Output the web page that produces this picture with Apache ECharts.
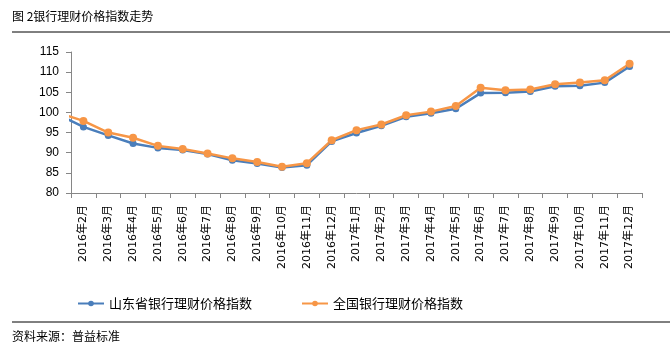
<!DOCTYPE html>
<html>
<head>
<meta charset="utf-8">
<script src="https://cdn.jsdelivr.net/npm/echarts@6/dist/echarts.min.js"></script>
<style>
  html, body { margin: 0; padding: 0; background: #fff; }
  #chart { width: 670px; height: 353px; }
</style>
</head>
<body>
<div id="chart"></div>
<script>
// 月份（第一项只用来画出坐标轴左侧被裁掉的那一段线）
var months = ['2016年1月', '2016年2月', '2016年3月', '2016年4月', '2016年5月', '2016年6月', '2016年7月',
  '2016年8月', '2016年9月', '2016年10月', '2016年11月', '2016年12月', '2017年1月', '2017年2月',
  '2017年3月', '2017年4月', '2017年5月', '2017年6月', '2017年7月', '2017年8月', '2017年9月',
  '2017年10月', '2017年11月', '2017年12月'];
var shandong = [99.4, 96.4, 94.3, 92.3, 91.2, 90.7, 89.7, 88.1, 87.3, 86.3, 86.9, 92.8, 94.9, 96.7,
  98.9, 99.8, 100.9, 104.8, 104.9, 105.2, 106.5, 106.6, 107.4, 111.4];
var national = [99.9, 97.9, 95.0, 93.7, 91.7, 90.9, 89.8, 88.6, 87.7, 86.5, 87.4, 93.1, 95.6, 97.0,
  99.3, 100.2, 101.6, 106.1, 105.5, 105.7, 107.0, 107.4, 108.0, 112.1];
var yTicks = { min: 80, max: 115, interval: 5 };

var blueColor = '#4a7ebb';
var orangeColor = '#f79646';
var axisColor = '#868686';
var cjk = '"Noto Sans CJK SC", "Noto Sans", sans-serif';

var myChart = echarts.init(document.getElementById('chart'));
myChart.setOption({
  animation: false,
  textStyle: { fontFamily: cjk },
  grid: { left: 71, right: 28, top: 52, bottom: 160 },
  graphic: [
    { type: 'text', left: 12, top: 10, style: { text: '图 2银行理财价格指数走势', fill: '#000', font: '12px ' + cjk } },
    { type: 'line', shape: { x1: 12, y1: 32, x2: 670, y2: 32 }, style: { stroke: '#000', lineWidth: 1 } },
    { type: 'line', shape: { x1: 12, y1: 322, x2: 670, y2: 322 }, style: { stroke: '#000', lineWidth: 1 } },
    { type: 'text', left: 12, top: 330, style: { text: '资料来源：普益标准', fill: '#000', font: '12px ' + cjk } }
  ],
  legend: {
    left: 72,
    top: 292,
    itemWidth: 26,
    itemHeight: 7,
    itemGap: 49,
    textStyle: { color: '#000', fontSize: 13, fontFamily: cjk },
    data: ['山东省银行理财价格指数', '全国银行理财价格指数']
  },
  xAxis: {
    type: 'category',
    data: months,
    min: 1,
    boundaryGap: true,
    axisLine: { lineStyle: { color: axisColor } },
    axisTick: { show: true, lineStyle: { color: axisColor }, length: 5 },
    axisLabel: { interval: 0, rotate: 90, color: '#000', fontSize: 11, margin: 12,
      fontFamily: '"DejaVu Sans", "Noto Sans CJK SC", sans-serif' }
  },
  yAxis: {
    type: 'value',
    min: yTicks.min,
    max: yTicks.max,
    interval: yTicks.interval,
    axisLine: { show: true, lineStyle: { color: axisColor } },
    axisTick: { show: true, lineStyle: { color: axisColor }, length: 5 },
    splitLine: { show: false },
    axisLabel: { color: '#000', fontSize: 12, margin: 12, fontFamily: 'Liberation Sans, sans-serif' }
  },
  series: [{
    name: '山东省银行理财价格指数',
    type: 'line',
    symbol: 'circle',
    symbolSize: 7,
    clip: true,
    itemStyle: { color: blueColor },
    lineStyle: { color: blueColor, width: 2.5 },
    data: shandong
  }, {
    name: '全国银行理财价格指数',
    type: 'line',
    symbol: 'circle',
    symbolSize: 8,
    clip: true,
    itemStyle: { color: orangeColor },
    lineStyle: { color: orangeColor, width: 2.5 },
    data: national
  }]
});
</script>
</body>
</html>
